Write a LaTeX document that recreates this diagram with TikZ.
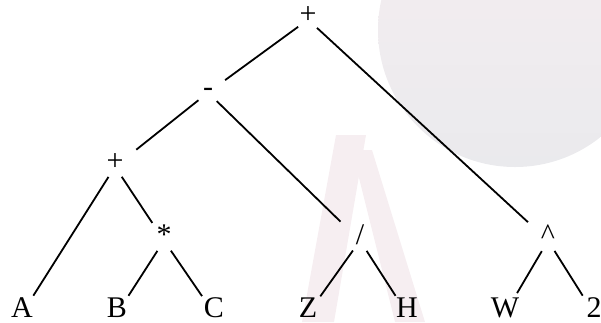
\documentclass[tikz,border=0pt]{standalone}
\usepackage{fontspec}
\setmainfont{Liberation Serif}
\definecolor{wmgray}{RGB}{234,234,237}
\definecolor{wmpink}{RGB}{246,238,241}
\tikzset{
  sym/.style={circle,inner sep=0pt,minimum size=24pt,text height=0.68em,text depth=0pt,anchor=base},
  branch/.style={line width=1.8pt,shorten >=9pt},
  longbranch/.style={branch,shorten >=15pt}
}

\begin{document}
\begin{tikzpicture}[x=1pt,y=-1pt,font=\fontsize{30}{35}\selectfont]
\useasboundingbox (0,0) rectangle (601,322);
% faint logo behind the tree
\shade[top color=wmpink,bottom color=wmgray] (515,30) circle (137pt);
\fill[wmpink] (302,322) -- (336,135) -- (366,135) -- (334,322) -- cycle;
\fill[wmpink] (352,150) -- (372,150) -- (425,322) -- (395,322) -- cycle;

% operators
\node[sym] (root) at (308,23) {+};
\node[sym] (minus) at (208,96) {-};
\node[sym] (plus) at (115,170) {+};
\node[sym] (times) at (164,244) {*};
\node[sym] (div) at (360,244) {/};
\node[sym] (pow) at (548,244) {\textasciicircum};
% operands
\foreach \name/\txt/\x in {a/A/22,b/B/117,c/C/214,z/Z/308,h/H/407,w/W/505,two/2/594}
  \node[sym] (\name) at (\x,317) {\txt};

\draw[branch] (root) -- (minus);
\draw[longbranch] (root) -- (pow);
\draw[longbranch] (minus) -- (plus);
\draw[longbranch] (minus) -- (div);
\draw[branch] (plus) -- (a);
\draw[branch] (plus) -- (times);
\draw[branch] (times) -- (b);
\draw[branch] (times) -- (c);
\draw[branch] (div) -- (z);
\draw[branch] (div) -- (h);
\draw[branch] (pow) -- (w);
\draw[branch] (pow) -- (two);
\end{tikzpicture}
\end{document}
